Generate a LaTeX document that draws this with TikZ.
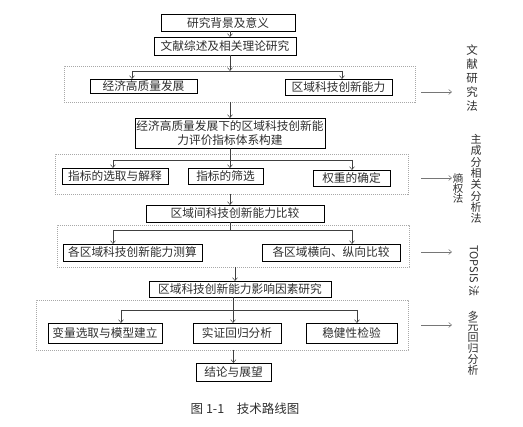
\documentclass[tikz,border=0pt]{standalone}
\usepackage{fontspec}
\newfontfamily\cjk{Noto Sans CJK SC}
\usetikzlibrary{arrows.meta}
\definecolor{frameGray}{HTML}{A8A8A8}
\definecolor{lineGray}{HTML}{404040}
\definecolor{textGray}{HTML}{2E2E2E}
\tikzset{
  box/.style={draw=black,line width=0.7pt,inner sep=0pt,outer sep=0pt,align=center,
    text=textGray,font=\cjk\fontsize{11.7}{14.5}\selectfont},
  group/.style={draw=frameGray,dash pattern=on 1.2pt off 0.8pt,line width=0.5pt,
    inner sep=0pt,outer sep=0pt},
  link/.style={lineGray,line width=0.5pt,-{Straight Barb[length=3pt,width=5pt]}},
  side/.style={frameGray!70!black,line width=0.5pt,-{Straight Barb[length=3pt,width=5pt]}},
  method/.style={align=center,text=textGray,inner sep=0pt}
}
\begin{document}
\begin{tikzpicture}[x=1pt,y=-1pt]
  \useasboundingbox (0,0) rectangle (523,427);

  % Main chain
  \node[box,minimum width=134pt,minimum height=17pt] (n1) at (228,23) {研究背景及意义};
  \node[box,minimum width=142pt,minimum height=18pt] (n2) at (225,46) {文献综述及相关理论研究};

  % Group A
  \node[group,minimum width=351pt,minimum height=36pt] (gA) at (239.5,84) {};
  \node[box,minimum width=107pt,minimum height=14pt] (a1) at (143.5,86) {经济高质量发展};
  \node[box,minimum width=107pt,minimum height=16pt] (a2) at (338.5,87) {区域科技创新能力};

  \node[box,minimum width=190pt,minimum height=30pt] (n3) at (230,133)
    {经济高质量发展下的区域科技创新能\\力评价指标体系构建};

  % Group B
  \node[group,minimum width=353pt,minimum height=40pt] (gB) at (231.5,174) {};
  \node[box,minimum width=106pt,minimum height=16pt] (b1) at (115,176) {指标的选取与解释};
  \node[box,minimum width=75pt,minimum height=16pt] (b2) at (225.5,176) {指标的筛选};
  \node[box,minimum width=77pt,minimum height=16pt] (b3) at (351.5,178) {权重的确定};

  \node[box,minimum width=178pt,minimum height=17pt] (n4) at (235,213.5) {区域间科技创新能力比较};

  % Group C
  \node[group,minimum width=352pt,minimum height=42pt] (gC) at (233,246) {};
  \node[box,minimum width=139pt,minimum height=17pt] (c1) at (132.5,252.5) {各区域科技创新能力测算};
  \node[box,minimum width=138pt,minimum height=17pt] (c2) at (331,252.5) {各区域横向、纵向比较};

  \node[box,minimum width=182pt,minimum height=16pt] (n5) at (240,289) {区域科技创新能力影响因素研究};

  % Group D
  \node[group,minimum width=372pt,minimum height=50pt] (gD) at (222,325) {};
  \node[box,minimum width=114pt,minimum height=20pt] (d1) at (105,333) {变量选取与模型建立};
  \node[box,minimum width=88pt,minimum height=20pt] (d2) at (237,333) {实证回归分析};
  \node[box,minimum width=91pt,minimum height=20pt] (d3) at (351.5,333) {稳健性检验};

  \node[box,minimum width=75pt,minimum height=18pt] (n6) at (233.5,372) {结论与展望};

  % Bars inside the groups
  \coordinate (aL) at (132,71);  \coordinate (aR) at (342,71);
  \coordinate (bL) at (113,160); \coordinate (bR) at (352,160);
  \coordinate (cL) at (113,230); \coordinate (cR) at (352,230);
  \coordinate (dL) at (121,310); \coordinate (dR) at (357,310);
  \draw[lineGray,line width=0.5pt] (aL) -- (aR) (bL) -- (bR) (cL) -- (cR) (dL) -- (dR);

  % Connectors
  \draw[link] ([xshift=2pt]n1.south) -- ([xshift=2pt]n1.south |- n2.north);
  \draw[link] ([xshift=5pt]n2.south) -- ([xshift=5pt]n2.south |- aL);
  \draw[link] (aL) -- (aL |- a1.north);
  \draw[link] (aR) -- (aR |- a2.north);
  \draw[link] (n3.north |- gA.south) -- (n3.north);
  \draw[link] (n3.south) -- (n3.south |- b2.north);
  \draw[link] (bL) -- (bL |- b1.north);
  \draw[link] (bR) -- (bR |- b3.north);
  \draw[link] (n3.south |- gB.south) -- (n3.south |- n4.north);
  \draw[lineGray,line width=0.5pt] ([xshift=-5pt]n4.south) -- ([xshift=-5pt]n4.south |- cL);
  \draw[link] (cL) -- (cL |- c1.north);
  \draw[link] (cR) -- (cR |- c2.north);
  \draw[link] (n4.south |- gC.south) -- (n4.south |- n5.north);
  \draw[link] ([xshift=-7pt]n5.south) -- ([xshift=-7pt]n5.south |- d2.north);
  \draw[link] (dL) -- (dL |- d1.north);
  \draw[link] (dR) -- (dR |- d3.north);
  \draw[link] (n6.north |- gD.south) -- (n6.north);

  % Methods on the right
  \foreach \y [count=\i] in {92,178,252,325} {
    \coordinate (s\i) at (421,\y);
    \coordinate (t\i) at (452,\y);
    \draw[side] (s\i) -- (t\i);
  }
  \node[method,font=\cjk\fontsize{11.5}{14}\selectfont] (mA) at (472,78) {文\\献\\研\\究\\法};
  \node[method,font=\cjk\fontsize{11}{11.3}\selectfont] (mB) at (476,179) {主\\成\\分\\相\\关\\分\\析\\法};
  \node[method,font=\cjk\fontsize{10.5}{10}\selectfont] (mB2) at (458,188) {熵\\权\\法};
  \node[method,font=\cjk\fontsize{11}{12}\selectfont,rotate=-90] (mC) at (474,271) {TOPSIS 法};
  \node[method,font=\cjk\fontsize{11}{10.8}\selectfont] (mD) at (473,343) {多\\元\\回\\归\\分\\析};

  % Caption
  \node[text=textGray,font=\cjk\fontsize{12.5}{15}\selectfont] (cap) at (245,409) {图 1-1\quad 技术路线图};
\end{tikzpicture}
\end{document}
